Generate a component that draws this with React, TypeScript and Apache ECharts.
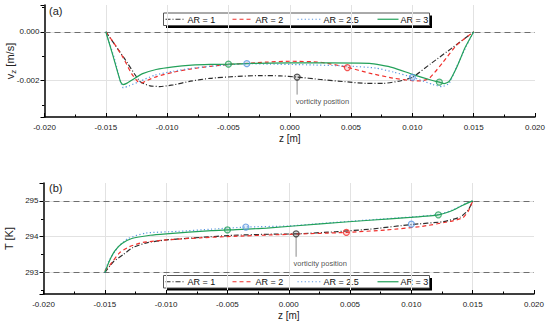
import React, { useEffect, useRef } from 'react';
import * as echarts from 'echarts';

const FONT = '"Liberation Sans", Arial, Helvetica, sans-serif';

// ---- series meta ----
const seriesNames = ['AR = 1', 'AR = 2', 'AR = 2.5', 'AR = 3'];
const seriesColors = ['#2e2e2e', '#f0302c', '#5a96e0', '#23a15a'];
const seriesDash: any[] = [[5, 2, 1, 2], [4, 3], [1.2, 2.4], 'solid'];

// ---- axis ranges / ticks ----
const zRange = [-0.02, 0.02];
const zInterval = 0.005;
const velRange = [-0.0035, 0.0011];
const tempRange = [292.4, 295.5];
const velRefLines = [0];
const tempRefLines = [293, 295];

// ---- (a) velocity v_z [m/s] vs z [m] ----
const velAR1 = [
  [-0.015, 0], [-0.0135, -0.00108], [-0.0122, -0.00205], [-0.0114, -0.00222], [-0.0106, -0.00225],
  [-0.0095, -0.00218], [-0.0081, -0.00203], [-0.0065, -0.00191], [-0.0045, -0.00184], [-0.0025, -0.0018],
  [-0.0008, -0.00181], [0.0006, -0.00186], [0.0025, -0.00196], [0.0045, -0.00205], [0.0063, -0.00212],
  [0.0076, -0.00212], [0.0090, -0.00202], [0.0100, -0.00187], [0.0115, -0.00131], [0.0133, -0.00064], [0.015, 0],
];
const velAR2 = [
  [-0.015, 0], [-0.0144, -0.00042], [-0.0136, -0.00105], [-0.0129, -0.00172], [-0.0124, -0.00204],
  [-0.0121, -0.0021], [-0.0116, -0.00199], [-0.0108, -0.00183], [-0.0095, -0.00166], [-0.0080, -0.00152],
  [-0.0065, -0.00142], [-0.0046, -0.00133], [-0.0020, -0.00125], [0.0000, -0.00121], [0.0025, -0.00125],
  [0.0047, -0.00146], [0.0065, -0.0017], [0.0084, -0.0019], [0.0100, -0.00201], [0.0107, -0.00202],
  [0.0114, -0.0019], [0.0125, -0.00125], [0.0136, -0.00055], [0.015, 0],
];
const velAR25 = [
  [-0.015, 0], [-0.0143, -0.0011], [-0.0138, -0.00205], [-0.01357, -0.0023], [-0.0131, -0.00222],
  [-0.0122, -0.00203], [-0.0110, -0.00178], [-0.0095, -0.00162], [-0.0080, -0.0015], [-0.0065, -0.00142],
  [-0.0050, -0.00136], [-0.0035, -0.00131], [-0.0016, -0.00133], [0.0010, -0.00135], [0.0049, -0.00141],
  [0.0070, -0.00149], [0.0085, -0.00166], [0.0100, -0.00187], [0.0117, -0.00217], [0.0124, -0.00225],
  [0.0130, -0.00212], [0.0136, -0.00145], [0.0144, -0.00059], [0.015, 0],
];
const velAR3 = [
  [-0.015, 0], [-0.0144, -0.00101], [-0.0138, -0.00205], [-0.0136, -0.00217], [-0.0133, -0.00212],
  [-0.0128, -0.00196], [-0.0120, -0.00172], [-0.0109, -0.00155], [-0.0095, -0.00144], [-0.0080, -0.00137],
  [-0.0065, -0.00134], [-0.0050, -0.00133], [-0.0030, -0.0013], [0.0000, -0.00128], [0.0030, -0.00128],
  [0.0065, -0.0013], [0.0084, -0.00147], [0.0100, -0.00175], [0.0115, -0.00198], [0.0122, -0.00207],
  [0.0126, -0.00213], [0.0130, -0.00204], [0.0136, -0.00148], [0.0143, -0.00065], [0.015, 0],
];
const velMarkers = [
  [[0.0006, -0.00186]],
  [[0.0047, -0.00147]],
  [[-0.0035, -0.00131], [0.0100, -0.00187]],
  [[-0.005, -0.00133], [0.0122, -0.00207]],
];
const velVortLine = [[0.0006, -0.00194], [0.0006, -0.00258]];
const velVortLabel = [0.00045, -0.00287];

// ---- (b) temperature T [K] vs z [m] ----
const tempAR1 = [
  [-0.015, 293.0], [-0.0143, 293.3], [-0.0135, 293.5], [-0.0127, 293.7], [-0.0116, 293.83],
  [-0.0100, 293.91], [-0.0072, 293.98], [-0.0045, 294.04], [-0.0015, 294.07], [0.0006, 294.08],
  [0.0039, 294.14], [0.0066, 294.21], [0.0100, 294.34], [0.0126, 294.42], [0.0140, 294.55],
  [0.01465, 294.75], [0.015, 295.0],
];
const tempAR2 = [
  [-0.015, 293.05], [-0.0146, 293.2], [-0.0138, 293.55], [-0.0130, 293.72], [-0.0119, 293.84],
  [-0.0100, 293.91], [-0.0072, 293.97], [-0.0045, 294.01], [-0.0015, 294.05], [0.0047, 294.12],
  [0.0080, 294.19], [0.0107, 294.28], [0.0132, 294.43], [0.0142, 294.53], [0.01465, 294.72], [0.015, 295.0],
];
const tempAR25 = [
  [-0.015, 293.0], [-0.0147, 293.3], [-0.0139, 293.72], [-0.0131, 293.95], [-0.0117, 294.1],
  [-0.0090, 294.15], [-0.0063, 294.21], [-0.0035, 294.27], [0.0, 294.3], [0.0026, 294.37],
  [0.0066, 294.47], [0.0099, 294.55], [0.0122, 294.62], [0.0134, 294.75], [0.0142, 294.89], [0.015, 295.0],
];
const tempAR3 = [
  [-0.015, 293.0], [-0.0146, 293.34], [-0.0142, 293.6], [-0.0136, 293.81], [-0.0128, 293.95],
  [-0.0113, 294.04], [-0.0100, 294.08], [-0.0063, 294.17], [-0.0050, 294.19], [-0.0018, 294.24],
  [0.0026, 294.36], [0.0066, 294.46], [0.0099, 294.54], [0.0122, 294.61], [0.0134, 294.74],
  [0.0142, 294.88], [0.015, 295.0],
];
const tempMarkers = [
  [[0.0006, 294.08]],
  [[0.0047, 294.12]],
  [[-0.0035, 294.27], [0.0100, 294.35]],
  [[-0.005, 294.19], [0.0122, 294.61]],
];
const tempVortLine = [[0.0006, 294.03], [0.0006, 293.44]];
const tempVortLabel = [0.00035, 293.25];

const annotationText = 'vorticity position';
const panelLabels = ['(a)', '(b)'];
const velNameParts = ['v', 'z', ' [m/s]'];
const tempName = 'T [K]';

function hexA(hex: string, a: number) {
  const n = parseInt(hex.slice(1), 16);
  return `rgba(${(n >> 16) & 255},${(n >> 8) & 255},${n & 255},${a})`;
}

function legendGroup(left: number, top: number) {
  const W = 266;
  const H = 12.5;
  const slots = [
    { x1: 2, x2: 22, tx: 24 },
    { x1: 69, x2: 89, tx: 92 },
    { x1: 134, x2: 157, tx: 160 },
    { x1: 214, x2: 235, tx: 237 },
  ];
  const children: any[] = [
    { type: 'rect', shape: { x: 2.5, y: 2.5, width: W, height: H }, style: { fill: '#000' } },
    { type: 'rect', shape: { x: 0, y: 0, width: W, height: H }, style: { fill: '#fff', stroke: '#555', lineWidth: 1 } },
  ];
  seriesNames.forEach((name, i) => {
    const s = slots[i];
    const dash = seriesDash[i];
    children.push({
      type: 'line',
      shape: { x1: s.x1, y1: H / 2, x2: s.x2, y2: H / 2 },
      style: { stroke: seriesColors[i], lineWidth: 1.2, lineDash: dash === 'solid' ? null : dash },
    });
    children.push({
      type: 'text',
      x: s.tx,
      y: H / 2 + 0.5,
      style: { text: name, fontSize: 9, fontFamily: FONT, fill: '#111', verticalAlign: 'middle', align: 'left' },
    });
  });
  return { type: 'group', left, top, z: 100, children };
}

function velNameGroup(cx: number, cy: number) {
  const txt = (text: string, x: number, y: number, size: number) => ({
    type: 'text',
    x,
    y,
    style: { text, fontSize: size, fontFamily: FONT, fill: '#222', verticalAlign: 'middle', align: 'left' },
  });
  return {
    type: 'group',
    x: cx,
    y: cy,
    rotation: Math.PI / 2,
    z: 100,
    children: [
      txt(velNameParts[0], -18.2, 0, 11),
      txt(velNameParts[1], -12.7, 3, 8),
      txt(velNameParts[2], -8.7, 0, 11),
    ],
  };
}

function buildPanel(idx: number, data: number[][][], markers: number[][][], vortLine: number[][], vortLabel: number[], refLines: number[]) {
  const out: any[] = [];
  data.forEach((d, i) => {
    const dash = seriesDash[i];
    out.push({
      type: 'line',
      name: seriesNames[i],
      xAxisIndex: idx,
      yAxisIndex: idx,
      data: d,
      showSymbol: false,
      symbol: 'none',
      smooth: 0.18,
      z: 3 + i,
      lineStyle: { color: seriesColors[i], width: 1.2, type: dash },
      ...(i === 0
        ? {
            markLine: {
              silent: true,
              symbol: 'none',
              label: { show: false },
              lineStyle: { color: '#6e6e6e', type: [6, 4], width: 1.1 },
              data: refLines.map((v) => ({ yAxis: v })),
              z: 1,
            },
          }
        : {}),
    });
  });
  out.push({
    type: 'line',
    xAxisIndex: idx,
    yAxisIndex: idx,
    data: vortLine,
    showSymbol: false,
    symbol: 'none',
    lineStyle: { color: '#8a8a8a', width: 1 },
    z: 2,
  });
  out.push({
    type: 'scatter',
    xAxisIndex: idx,
    yAxisIndex: idx,
    data: [vortLabel],
    symbolSize: 1,
    itemStyle: { color: 'rgba(0,0,0,0)' },
    label: {
      show: true,
      position: 'right',
      distance: 0,
      formatter: annotationText,
      fontSize: 7.5,
      fontFamily: FONT,
      color: '#1a1a1a',
      textBorderWidth: 0,
    },
    z: 10,
  });
  markers.forEach((m, i) => {
    out.push({
      type: 'scatter',
      xAxisIndex: idx,
      yAxisIndex: idx,
      data: m,
      symbol: 'circle',
      symbolSize: 6,
      itemStyle: { color: hexA(seriesColors[i], 0.22), borderColor: seriesColors[i], borderWidth: 1.2 },
      z: 20,
    });
  });
  return out;
}

function xAxisCfg(gridIndex: number) {
  return {
    type: 'value',
    gridIndex,
    min: zRange[0],
    max: zRange[1],
    interval: zInterval,
    name: 'z [m]',
    nameLocation: 'middle',
    nameGap: 16,
    nameTextStyle: { fontSize: 10, fontFamily: FONT, color: '#222' },
    axisLine: { show: true, onZero: false, lineStyle: { color: '#000', width: 1.5 } },
    axisTick: { show: true, inside: true, length: 4, lineStyle: { color: '#000', width: 1 } },
    minorTick: { show: true, splitNumber: 2, length: 2.5, lineStyle: { color: '#000', width: 1 } },
    axisLabel: {
      fontSize: 8,
      fontFamily: FONT,
      color: '#222',
      margin: 6,
      formatter: (v: number) => v.toFixed(3),
    },
    splitLine: { show: true, showMinLine: false, showMaxLine: false, lineStyle: { color: '#e2e2e2', width: 1 } },
  };
}

export default function App() {
  const ref = useRef<HTMLDivElement>(null);
  useEffect(() => {
    if (!ref.current) return;
    const chart = echarts.init(ref.current, undefined, { renderer: 'svg' });
    const isMult = (v: number, step: number) => Math.abs(v / step - Math.round(v / step)) < 1e-6;
    const option: any = {
      animation: false,
      backgroundColor: '#fff',
      textStyle: { fontFamily: FONT },
      grid: [
        { left: 44.5, right: 15, top: 5, height: 112, containLabel: false, outerBoundsMode: 'none' },
        { left: 43.5, right: 16, top: 183, height: 111, containLabel: false, outerBoundsMode: 'none' },
      ],
      xAxis: [xAxisCfg(0), xAxisCfg(1)],
      yAxis: [
        {
          type: 'value',
          gridIndex: 0,
          min: velRange[0],
          max: velRange[1],
          splitNumber: 2,
          axisLine: { show: true, onZero: false, lineStyle: { color: '#000', width: 1.5 } },
          axisTick: { show: true, length: 4, lineStyle: { color: '#000' } },
          minorTick: { show: true, splitNumber: 2, length: 2.5, lineStyle: { color: '#000' } },
          axisLabel: {
            fontSize: 8,
            fontFamily: FONT,
            color: '#222',
            margin: 5,
            formatter: (v: number) => (isMult(v, 0.002) ? (Math.abs(v) < 1e-9 ? 0 : v).toFixed(3) : ''),
          },
          splitLine: { show: true, showMinLine: false, showMaxLine: false, lineStyle: { color: '#e2e2e2', width: 1 } },
        },
        {
          type: 'value',
          gridIndex: 1,
          min: tempRange[0],
          max: tempRange[1],
          splitNumber: 3,
          name: tempName,
          nameLocation: 'middle',
          nameGap: 26,
          nameTextStyle: { fontSize: 11, fontFamily: FONT, color: '#222' },
          axisLine: { show: true, onZero: false, lineStyle: { color: '#000', width: 1.5 } },
          axisTick: { show: true, length: 4, lineStyle: { color: '#000' } },
          minorTick: { show: true, splitNumber: 2, length: 2.5, lineStyle: { color: '#000' } },
          axisLabel: {
            fontSize: 8,
            fontFamily: FONT,
            color: '#222',
            margin: 5,
            formatter: (v: number) => (isMult(v, 1) ? String(Math.round(v)) : ''),
          },
          splitLine: { show: true, showMinLine: false, showMaxLine: false, lineStyle: { color: '#e2e2e2', width: 1 } },
        },
      ],
      graphic: [
        legendGroup(163, 12.5),
        legendGroup(163, 275),
        velNameGroup(10, 61),
        { type: 'text', left: 49, top: 5, z: 100, style: { text: panelLabels[0], fontSize: 11, fontFamily: FONT, fill: '#222' } },
        { type: 'text', left: 49, top: 182, z: 100, style: { text: panelLabels[1], fontSize: 11, fontFamily: FONT, fill: '#222' } },
      ],
      series: [
        ...buildPanel(0, [velAR1, velAR2, velAR25, velAR3], velMarkers, velVortLine, velVortLabel, velRefLines),
        ...buildPanel(1, [tempAR1, tempAR2, tempAR25, tempAR3], tempMarkers, tempVortLine, tempVortLabel, tempRefLines),
      ],
    };
    chart.setOption(option);
    return () => chart.dispose();
  }, []);
  return (
    <div
      ref={ref}
      style={{ position: 'fixed', left: 0, top: 0, width: 550, height: 329, background: '#fff' }}
    />
  );
}
